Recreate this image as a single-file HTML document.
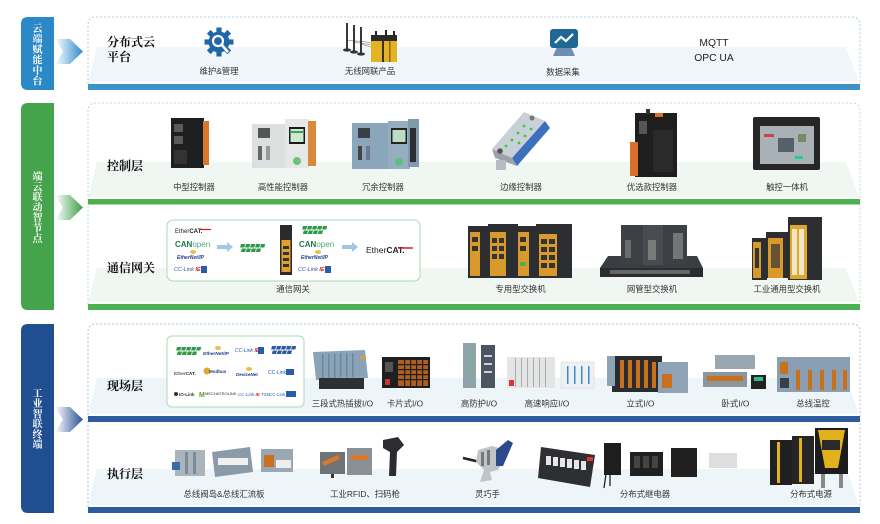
<!DOCTYPE html>
<html><head><meta charset="utf-8">
<style>
html,body{margin:0;padding:0;background:#fff;}
svg{display:block;}
.lb{font-family:"Liberation Sans","Noto Sans CJK SC",sans-serif;font-size:8.4px;fill:#333;text-anchor:middle;}
.rl{font-family:"Noto Serif CJK SC","Liberation Serif",serif;font-size:12px;font-weight:700;fill:#111;}
.vt{font-family:"Noto Serif CJK SC","Liberation Serif",serif;font-size:10px;font-weight:700;fill:#fff;text-anchor:middle;}
.sm{font-family:"Liberation Sans",sans-serif;}
</style></head><body>
<svg width="880" height="524" viewBox="0 0 880 524" xmlns="http://www.w3.org/2000/svg">
<defs>
<linearGradient id="g1" x1="0" x2="1" y1="0" y2="0"><stop offset="0" stop-color="#fff"/><stop offset="1" stop-color="#2e8bcb"/></linearGradient>
<linearGradient id="g2" x1="0" x2="1" y1="0" y2="0"><stop offset="0" stop-color="#fff"/><stop offset="1" stop-color="#3f9f47"/></linearGradient>
<linearGradient id="g3" x1="0" x2="1" y1="0" y2="0"><stop offset="0" stop-color="#fff"/><stop offset="1" stop-color="#2b4f96"/></linearGradient>
<g id="pn"><g transform="skewX(-15)"><rect x="0" y="0" width="4.2" height="3.5"/><rect x="5" y="0" width="4.2" height="3.5"/><rect x="10" y="0" width="4.2" height="3.5"/><rect x="15" y="0" width="4.2" height="3.5"/><rect x="20" y="0" width="4.2" height="3.5"/><rect x="2" y="4.5" width="4.2" height="3.5"/><rect x="7" y="4.5" width="4.2" height="3.5"/><rect x="12" y="4.5" width="4.2" height="3.5"/><rect x="17" y="4.5" width="4.2" height="3.5"/></g></g>
</defs>

<!-- ===== Section 1 ===== -->
<path d="M54,17 H28 Q21,17 21,24 V83 Q21,90 28,90 H54 Z" fill="#2a89c6"/>
<polygon points="55,39 70,39 83,51.5 70,64 55,64 63,51.5" fill="url(#g1)"/>
<polygon points="97,47 846,47 859,82 88,82" fill="#f1f6fa"/>
<path d="M88,84 V25 Q88,17 96,17 H852 Q860,17 860,25 V84" fill="none" stroke="#9cc4df" stroke-width="0.8" stroke-dasharray="2,2"/>
<rect x="88" y="84" width="772" height="6" fill="#3d93c9"/>
<text class="vt" x="37.5" y="32">云</text><text class="vt" x="37.5" y="42.5">端</text><text class="vt" x="37.5" y="53">赋</text><text class="vt" x="37.5" y="63.5">能</text><text class="vt" x="37.5" y="74">中</text><text class="vt" x="37.5" y="84.5">台</text>
<text class="rl" x="107" y="46">分布式云</text>
<text class="rl" x="107" y="61">平台</text>

<!-- gear -->
<g transform="translate(219,42)" fill="#1f67a6">
<circle r="10.5"/>
<rect x="-2.6" y="-14.5" width="5.2" height="6" transform="rotate(0)"/><rect x="-2.6" y="-14.5" width="5.2" height="6" transform="rotate(45)"/><rect x="-2.6" y="-14.5" width="5.2" height="6" transform="rotate(90)"/><rect x="-2.6" y="-14.5" width="5.2" height="6" transform="rotate(135)"/><rect x="-2.6" y="-14.5" width="5.2" height="6" transform="rotate(180)"/><rect x="-2.6" y="-14.5" width="5.2" height="6" transform="rotate(225)"/><rect x="-2.6" y="-14.5" width="5.2" height="6" transform="rotate(270)"/><rect x="-2.6" y="-14.5" width="5.2" height="6" transform="rotate(315)"/>
<circle r="5" fill="none" stroke="#fff" stroke-width="2.2" cx="-1" cy="-1"/>
<line x1="2" y1="2" x2="9" y2="10" stroke="#fff" stroke-width="2.6"/>
</g>
<text class="lb" x="219" y="74">维护&amp;管理</text>

<!-- wireless -->
<g>
<path d="M347,40 C356,42 364,40 374,44 M354,42 C362,44 368,43 376,47 M361,44 C366,46 370,46 378,50" stroke="#999" stroke-width="0.8" fill="none"/>
<line x1="347" y1="23" x2="347" y2="49" stroke="#222" stroke-width="1.8"/>
<line x1="354" y1="25" x2="354" y2="51" stroke="#222" stroke-width="1.8"/>
<line x1="361" y1="27" x2="361" y2="53" stroke="#222" stroke-width="1.8"/>
<ellipse cx="347" cy="50" rx="4" ry="1.6" fill="#333"/><ellipse cx="354" cy="52" rx="4" ry="1.6" fill="#333"/><ellipse cx="361" cy="54" rx="4" ry="1.6" fill="#333"/>
<rect x="371" y="37" width="26" height="25" fill="#e5b224"/>
<rect x="371" y="35" width="26" height="6" fill="#2a2a2a"/>
<rect x="382" y="41" width="2" height="21" fill="#333"/><rect x="389" y="41" width="1.5" height="21" fill="#8a6a10"/>
<rect x="375" y="31" width="2" height="5" fill="#222"/><rect x="385" y="30" width="2" height="6" fill="#222"/><rect x="393" y="31" width="2" height="5" fill="#222"/>
</g>
<text class="lb" x="370" y="74">无线网联产品</text>

<!-- data collection -->
<polygon points="557,47 571,47 575,56 553,56" fill="#6f8db0"/>
<rect x="550" y="29" width="28" height="19" rx="3" fill="#1f6896"/>
<polyline points="555,43 561,37 566,41 573,34" fill="none" stroke="#fff" stroke-width="2.2"/>
<text class="lb" x="563" y="75">数据采集</text>

<text x="714" y="46" font-family="Liberation Sans,sans-serif" font-size="10.3" fill="#222" text-anchor="middle">MQTT</text>
<text x="714" y="61" font-family="Liberation Sans,sans-serif" font-size="10.3" fill="#222" text-anchor="middle">OPC UA</text>

<!-- ===== Section 2 ===== -->
<path d="M54,103 H28 Q21,103 21,110 V303 Q21,310 28,310 H54 Z" fill="#44a34b"/>
<polygon points="55,195 70,195 83,207.5 70,220 55,220 63,207.5" fill="url(#g2)"/>
<polygon points="97,162 846,162 859,197 88,197" fill="#f0f7f2"/>
<polygon points="97,268 846,268 859,302 88,302" fill="#f0f7f2"/>
<path d="M88,304 V111 Q88,103 96,103 H852 Q860,103 860,111 V304" fill="none" stroke="#a9d4a9" stroke-width="0.8" stroke-dasharray="2,2"/>
<rect x="88" y="199" width="772" height="5.5" fill="#4caf50"/>
<rect x="88" y="304" width="772" height="6" fill="#4caf50"/>
<text class="vt" x="37.5" y="180">端</text><text class="vt" x="37.5" y="190.3">云</text><text class="vt" x="37.5" y="200.6">联</text><text class="vt" x="37.5" y="210.9">动</text><text class="vt" x="37.5" y="221.2">智</text><text class="vt" x="37.5" y="231.5">节</text><text class="vt" x="37.5" y="241.8">点</text>
<text class="rl" x="107" y="170">控制层</text>
<text class="rl" x="107" y="272">通信网关</text>

<!-- 中型控制器 -->
<rect x="171" y="118" width="33" height="50" fill="#1e1f21"/>
<rect x="174" y="124" width="9" height="8" fill="#5a5a5a"/><rect x="174" y="136" width="9" height="8" fill="#5a5a5a"/>
<rect x="174" y="150" width="13" height="14" fill="#333"/>
<rect x="203" y="121" width="6" height="44" fill="#d9782a"/>
<text class="lb" x="194" y="190">中型控制器</text>

<!-- 高性能控制器 -->
<rect x="252" y="124" width="34" height="44" fill="#dcdfdf"/>
<rect x="258" y="128" width="12" height="10" fill="#555"/>
<rect x="258" y="146" width="4" height="14" fill="#666"/><rect x="266" y="146" width="4" height="14" fill="#999"/>
<rect x="285" y="119" width="24" height="49" fill="#e6e8e7"/>
<rect x="289" y="127" width="16" height="17" fill="#1b1b1b"/><rect x="290.5" y="129" width="13" height="13" fill="#cfe8d0"/><rect x="291" y="131" width="12" height="2" fill="#3aa35a"/>
<circle cx="297" cy="161" r="4" fill="#6cc27a"/>
<rect x="308" y="121" width="8" height="45" fill="#d88a3a"/>
<text class="lb" x="283" y="190">高性能控制器</text>

<!-- 冗余控制器 -->
<rect x="352" y="123" width="38" height="46" fill="#8aa6ba"/>
<rect x="358" y="128" width="12" height="10" fill="#3a3f45"/>
<rect x="358" y="146" width="4" height="14" fill="#444"/><rect x="366" y="146" width="4" height="14" fill="#6a7a88"/>
<rect x="388" y="121" width="22" height="48" fill="#94adc0"/>
<rect x="391" y="128" width="16" height="16" fill="#222"/><rect x="392.5" y="130" width="13" height="12" fill="#bcdcc4"/>
<circle cx="399" cy="162" r="4" fill="#5fc07a"/>
<rect x="408" y="119" width="11" height="48" fill="#7f99ad"/><rect x="410" y="128" width="6" height="34" fill="#2b2f33"/>
<text class="lb" x="383" y="190">冗余控制器</text>

<!-- 边缘控制器 -->
<polygon points="524,112 545,121 512,158 492,149" fill="#c9d0d8"/>
<polygon points="545,121 550,128 517,166 512,158" fill="#3d6fbd"/>
<polygon points="492,149 512,158 517,166 495,158" fill="#9aa3ac"/>
<rect x="496" y="160" width="10" height="10" fill="#b5bcc4"/>
<circle cx="512" cy="140" r="1.4" fill="#3c3"/><circle cx="518" cy="133" r="1.4" fill="#3c3"/><circle cx="506" cy="146" r="1.4" fill="#3c3"/><circle cx="524" cy="126" r="1.4" fill="#3c3"/>
<circle cx="519" cy="143" r="1.4" fill="#3c3"/><circle cx="525" cy="136" r="1.4" fill="#3c3"/><circle cx="531" cy="129" r="1.4" fill="#3c3"/>
<circle cx="500" cy="151" r="2.8" fill="#555"/><circle cx="532" cy="118" r="2.5" fill="#777"/>
<text class="lb" x="521" y="190">边缘控制器</text>

<!-- 优选款控制器 -->
<rect x="635" y="113" width="42" height="64" fill="#1e1e1e"/>
<rect x="646" y="109" width="4" height="5" fill="#333"/>
<rect x="655" y="113" width="8" height="4" fill="#d9702a"/>
<rect x="639" y="121" width="8" height="13" fill="#555"/>
<rect x="630" y="142" width="8" height="34" fill="#d9702a"/>
<rect x="653" y="130" width="20" height="42" fill="#2a2a2a"/>
<text class="lb" x="652" y="190">优选款控制器</text>

<!-- 触控一体机 -->
<rect x="753" y="117" width="67" height="53" rx="2" fill="#262626"/>
<rect x="760" y="126" width="54" height="38" fill="#a9b1b7"/>
<rect x="778" y="138" width="16" height="14" fill="#55606a"/>
<rect x="764" y="134" width="10" height="3" fill="#c44"/><rect x="798" y="134" width="8" height="8" fill="#7a8a60"/>
<rect x="795" y="156" width="8" height="3" fill="#2c9"/>
<text class="lb" x="787" y="190">触控一体机</text>

<!-- gateway box -->
<rect x="167" y="220" width="253" height="61" rx="6" fill="#fff" stroke="#aed8b4" stroke-width="1"/>
<text x="175" y="233" class="sm" font-size="6" fill="#222">Ether<tspan font-weight="bold">CAT.</tspan></text>
<line x1="199" y1="229.5" x2="211" y2="229.5" stroke="#c22" stroke-width="1.2"/>
<text x="175" y="247" class="sm" font-size="8" font-weight="bold" fill="#1d7a4a">CAN<tspan font-weight="normal" fill="#4aae74">open</tspan></text>
<ellipse cx="193" cy="252" rx="3" ry="2" fill="#e8c050"/>
<text x="177" y="259" class="sm" font-size="5" font-style="italic" font-weight="bold" fill="#1c3f8c">EtherNet/IP</text>
<text x="174" y="271" class="sm" font-size="5.5" font-style="italic" fill="#2a5caa">CC-Link <tspan fill="#d22" font-weight="bold">IE</tspan></text>
<rect x="201" y="266" width="6" height="7" fill="#2a5caa"/>
<polygon points="217,245 227,245 227,242 233,247 227,252 227,249 217,249" fill="#9fc8e8"/>
<use href="#pn" x="241" y="244" fill="#2e9a48"/>
<rect x="280" y="225" width="12" height="50" fill="#2b2b2b"/>
<rect x="281.5" y="240" width="9" height="32" fill="#e0a030"/>
<rect x="283" y="246" width="6" height="3" fill="#333"/><rect x="283" y="252" width="6" height="3" fill="#333"/><rect x="283" y="258" width="6" height="3" fill="#333"/><rect x="283" y="264" width="6" height="3" fill="#333"/>
<use href="#pn" x="303" y="226" fill="#2e9a48"/>
<text x="299" y="247" class="sm" font-size="8" font-weight="bold" fill="#1d7a4a">CAN<tspan font-weight="normal" fill="#4aae74">open</tspan></text>
<ellipse cx="318" cy="252" rx="3" ry="2" fill="#e8c050"/>
<text x="301" y="259" class="sm" font-size="5" font-style="italic" font-weight="bold" fill="#1c3f8c">EtherNet/IP</text>
<text x="298" y="271" class="sm" font-size="5.5" font-style="italic" fill="#2a5caa">CC-Link <tspan fill="#d22" font-weight="bold">IE</tspan></text>
<rect x="325" y="266" width="6" height="7" fill="#2a5caa"/>
<polygon points="342,245 352,245 352,242 358,247 352,252 352,249 342,249" fill="#9fc8e8"/>
<text x="366" y="253" class="sm" font-size="8.5" fill="#222">Ether<tspan font-weight="bold">CAT.</tspan></text>
<line x1="398" y1="248" x2="413" y2="248" stroke="#c22" stroke-width="1.5"/>
<text class="lb" x="293" y="292">通信网关</text>

<!-- 专用型交换机 -->
<rect x="468" y="226" width="20" height="52" fill="#2c2e31"/><rect x="470" y="232" width="10" height="44" fill="#d89a2a"/>
<rect x="472" y="237" width="6" height="5" fill="#333"/><rect x="472" y="246" width="6" height="5" fill="#333"/>
<rect x="488" y="224" width="30" height="54" fill="#2c2e31"/><rect x="490" y="232" width="16" height="44" fill="#d89a2a"/>
<rect x="492" y="238" width="5" height="5" fill="#333"/><rect x="499" y="238" width="5" height="5" fill="#333"/><rect x="492" y="246" width="5" height="5" fill="#333"/><rect x="499" y="246" width="5" height="5" fill="#333"/><rect x="492" y="254" width="5" height="5" fill="#333"/><rect x="499" y="254" width="5" height="5" fill="#333"/>
<rect x="516" y="226" width="22" height="52" fill="#2c2e31"/><rect x="518" y="232" width="11" height="44" fill="#d89a2a"/>
<rect x="520" y="237" width="6" height="5" fill="#333"/><rect x="520" y="246" width="6" height="5" fill="#333"/><rect x="520" y="262" width="6" height="4" fill="#5a5"/>
<rect x="536" y="224" width="36" height="54" fill="#2c2e31"/><rect x="539" y="234" width="18" height="42" fill="#d89a2a"/>
<rect x="541" y="239" width="6" height="5" fill="#333"/><rect x="549" y="239" width="6" height="5" fill="#333"/><rect x="541" y="247" width="6" height="5" fill="#333"/><rect x="549" y="247" width="6" height="5" fill="#333"/><rect x="541" y="255" width="6" height="5" fill="#333"/><rect x="549" y="255" width="6" height="5" fill="#333"/><rect x="541" y="263" width="6" height="5" fill="#333"/><rect x="549" y="263" width="6" height="5" fill="#333"/>
<text class="lb" x="520.5" y="292">专用型交换机</text>

<!-- 网管型交换机 -->
<polygon points="608,256 697,256 703,268 600,268" fill="#3a3d42"/>
<rect x="600" y="268" width="103" height="9" fill="#2a2c30"/>
<rect x="610" y="270" width="80" height="4" fill="#777" opacity="0.8"/>
<rect x="621" y="225" width="22" height="40" fill="#3c3f44"/><rect x="643" y="225" width="20" height="40" fill="#484b50"/><rect x="663" y="225" width="24" height="40" fill="#3c3f44"/>
<rect x="625" y="240" width="6" height="18" fill="#888" opacity="0.6"/><rect x="648" y="240" width="8" height="20" fill="#999" opacity="0.6"/><rect x="673" y="233" width="10" height="26" fill="#999" opacity="0.6"/>
<text class="lb" x="652" y="292">网管型交换机</text>

<!-- 工业通用型交换机 -->
<rect x="752" y="238" width="15" height="42" fill="#2c2e31"/><rect x="753" y="242" width="8" height="36" fill="#d89a2a"/>
<rect x="766" y="232" width="24" height="46" fill="#2c2e31"/><rect x="768" y="238" width="15" height="40" fill="#d89a2a"/>
<rect x="788" y="217" width="34" height="63" fill="#2c2e31"/><rect x="790" y="225" width="17" height="54" fill="#e0a82a"/>
<rect x="792" y="229" width="5" height="46" fill="#f1e6c8"/><rect x="799" y="229" width="5" height="46" fill="#f1e6c8"/>
<rect x="755" y="248" width="4" height="20" fill="#333"/><rect x="771" y="244" width="9" height="24" fill="#333" opacity="0.7"/>
<text class="lb" x="787" y="292">工业通用型交换机</text>

<!-- ===== Section 3 ===== -->
<path d="M54,324 H28 Q21,324 21,331 V506 Q21,513 28,513 H54 Z" fill="#1f4f91"/>
<polygon points="55,407 70,407 83,419.5 70,432 55,432 63,419.5" fill="url(#g3)"/>
<polygon points="97,378 846,378 859,414 88,414" fill="#eef5f9"/>
<polygon points="97,469 846,469 859,505 88,505" fill="#eef5f9"/>
<path d="M88,507 V332 Q88,324 96,324 H852 Q860,324 860,332 V507" fill="none" stroke="#9ab2d2" stroke-width="0.8" stroke-dasharray="2,2"/>
<rect x="88" y="416" width="772" height="6" fill="#2c5c9c"/>
<rect x="88" y="507" width="772" height="6" fill="#2c5c9c"/>
<text class="vt" x="37.5" y="397">工</text><text class="vt" x="37.5" y="407.2">业</text><text class="vt" x="37.5" y="417.4">智</text><text class="vt" x="37.5" y="427.6">联</text><text class="vt" x="37.5" y="437.8">终</text><text class="vt" x="37.5" y="448">端</text>
<text class="rl" x="107" y="390">现场层</text>
<text class="rl" x="107" y="478">执行层</text>

<!-- protocol box -->
<rect x="167" y="336" width="137" height="71" rx="5" fill="#fff" stroke="#aed8b4" stroke-width="1"/>
<use href="#pn" x="177" y="347" fill="#2e9a48"/>
<ellipse cx="218" cy="348" rx="3" ry="2" fill="#e8c050"/>
<text x="203" y="355" class="sm" font-size="4.8" font-style="italic" font-weight="bold" fill="#1c3f8c">EtherNet/IP</text>
<text x="235" y="352" class="sm" font-size="5" font-style="italic" fill="#2a5caa">CC-Link <tspan fill="#d22" font-weight="bold">IE</tspan></text>
<rect x="258" y="347" width="6" height="7" fill="#2a5caa"/>
<use href="#pn" x="272" y="346" fill="#2c5aa0"/>
<text x="174" y="375" class="sm" font-size="4.8" fill="#222">Ether<tspan font-weight="bold">CAT.</tspan></text>
<circle cx="207" cy="371" r="3.5" fill="#e2a828"/>
<text x="209" y="373" class="sm" font-size="4.5" font-weight="bold" fill="#1c3f8c">Modbus</text>
<ellipse cx="249" cy="369" rx="3" ry="2" fill="#e8c050"/>
<text x="236" y="376" class="sm" font-size="4.5" font-style="italic" font-weight="bold" fill="#1c3f8c">DeviceNet</text>
<text x="268" y="374" class="sm" font-size="5" fill="#2a5caa">CC-Link</text>
<rect x="286" y="369" width="8" height="6" fill="#2a5caa"/>
<circle cx="176" cy="394" r="2" fill="#333"/>
<text x="179" y="396" class="sm" font-size="4.5" font-weight="bold" fill="#333">IO-Link</text>
<text x="199" y="397" class="sm" font-size="7" font-weight="bold" fill="#5a9a30">M</text>
<text x="205" y="395" class="sm" font-size="4" fill="#333">MECHATROLINK</text>
<text x="238" y="396" class="sm" font-size="4.5" font-style="italic" fill="#2a5caa">CC-Link <tspan fill="#d22" font-weight="bold">IE</tspan> TSN</text>
<text x="269" y="396" class="sm" font-size="4.5" fill="#2a5caa">CC-Link</text>
<rect x="286" y="391" width="10" height="6" fill="#2a5caa"/>

<!-- 三段式 -->
<polygon points="313,352 365,350 368,378 316,380" fill="#8aa3b8"/>
<g fill="#6f879b"><rect x="322" y="354" width="1.5" height="24"/><rect x="328" y="354" width="1.5" height="24"/><rect x="334" y="354" width="1.5" height="24"/><rect x="340" y="353" width="1.5" height="24"/><rect x="346" y="353" width="1.5" height="24"/><rect x="352" y="353" width="1.5" height="24"/></g>
<rect x="319" y="378" width="45" height="11" fill="#2d3035"/>
<rect x="360" y="356" width="6" height="3" fill="#e0a030"/>
<text class="lb" x="342.5" y="406.5">三段式热插拔I/O</text>

<!-- 卡片式 -->
<rect x="382" y="357" width="48" height="31" fill="#1f1f1f"/>
<rect x="398" y="360" width="30" height="26" fill="#c86a20" opacity="0.85"/>
<g fill="#1f1f1f"><rect x="398" y="364" width="30" height="1.2"/><rect x="398" y="369" width="30" height="1.2"/><rect x="398" y="374" width="30" height="1.2"/><rect x="398" y="379" width="30" height="1.2"/><rect x="404" y="360" width="1.2" height="26"/><rect x="410" y="360" width="1.2" height="26"/><rect x="416" y="360" width="1.2" height="26"/><rect x="422" y="360" width="1.2" height="26"/></g>
<rect x="385" y="362" width="8" height="10" fill="#555"/><rect x="385" y="379" width="5" height="6" fill="#c33"/>
<text class="lb" x="405" y="406.5">卡片式I/O</text>

<!-- 高防护 -->
<rect x="463" y="343" width="13" height="45" fill="#8ea4a8"/>
<rect x="481" y="345" width="14" height="43" fill="#4a5560"/>
<g fill="#3d4"><circle cx="469.5" cy="356" r="1"/><circle cx="469.5" cy="364" r="1"/><circle cx="469.5" cy="372" r="1"/></g>
<g fill="#ccd"><rect x="484" y="355" width="8" height="2"/><rect x="484" y="363" width="8" height="2"/><rect x="484" y="371" width="8" height="2"/></g>
<text class="lb" x="479" y="406.5">高防护I/O</text>

<!-- 高速响应 -->
<rect x="507" y="357" width="48" height="31" fill="#e4e6e6"/>
<g fill="#a8acb0"><rect x="515" y="358" width="1" height="29"/><rect x="521" y="358" width="1" height="29"/><rect x="527" y="358" width="1" height="29"/><rect x="533" y="358" width="1" height="29"/><rect x="539" y="358" width="1" height="29"/><rect x="545" y="358" width="1" height="29"/></g>
<rect x="509" y="380" width="5" height="6" fill="#d33"/>
<rect x="561" y="362" width="33" height="26" fill="#eef0f2" stroke="#cfd4d8" stroke-width="0.5"/>
<g fill="#3a8ad0"><rect x="567" y="366" width="1.5" height="18"/><rect x="574" y="366" width="1.5" height="18"/><rect x="581" y="366" width="1.5" height="18"/><rect x="588" y="366" width="1.5" height="18"/></g>
<text class="lb" x="547" y="406.5">高速响应I/O</text>

<!-- 立式 -->
<rect x="612" y="356" width="50" height="36" fill="#2a2c2f"/>
<g fill="#c8701e"><rect x="620" y="360" width="4" height="28"/><rect x="628" y="360" width="4" height="28"/><rect x="636" y="360" width="4" height="28"/><rect x="644" y="360" width="4" height="28"/><rect x="652" y="362" width="4" height="26"/></g>
<rect x="607" y="356" width="8" height="30" fill="#8ea3b5"/>
<rect x="658" y="362" width="30" height="31" fill="#8ea3b5"/>
<rect x="662" y="374" width="10" height="14" fill="#c8701e"/>
<text class="lb" x="640.5" y="406.5">立式I/O</text>

<!-- 卧式 -->
<rect x="715" y="355" width="40" height="14" fill="#9aa6b0"/>
<rect x="703" y="372" width="44" height="15" fill="#8a96a0"/>
<rect x="707" y="376" width="36" height="5" fill="#c8701e"/>
<rect x="751" y="375" width="15" height="14" fill="#222"/>
<rect x="754" y="377" width="9" height="4" fill="#3b8"/>
<text class="lb" x="735.5" y="406.5">卧式I/O</text>

<!-- 总线温控 -->
<rect x="777" y="357" width="73" height="35" fill="#8aa0b2"/>
<g fill="#c8701e"><rect x="796" y="370" width="4" height="20"/><rect x="808" y="370" width="4" height="20"/><rect x="820" y="370" width="4" height="20"/><rect x="832" y="370" width="4" height="20"/><rect x="843" y="370" width="4" height="20"/></g>
<rect x="780" y="362" width="8" height="12" fill="#c8701e"/><rect x="780" y="378" width="9" height="10" fill="#3a3f45"/>
<text class="lb" x="813" y="406.5">总线温控</text>

<!-- 阀岛 -->
<rect x="175" y="450" width="30" height="26" fill="#a9b4bd"/>
<rect x="172" y="462" width="8" height="8" fill="#3a6aa8"/>
<rect x="185" y="452" width="3" height="22" fill="#7e8a94"/><rect x="193" y="452" width="3" height="22" fill="#7e8a94"/>
<polygon points="212,452 250,447 253,472 215,477" fill="#8a9aa8"/>
<rect x="218" y="458" width="30" height="7" fill="#f0f0f0"/>
<rect x="261" y="449" width="32" height="23" fill="#9aa8b4"/>
<rect x="264" y="455" width="10" height="12" fill="#c8701e"/><rect x="276" y="460" width="15" height="8" fill="#eee"/>
<text class="lb" x="224" y="497">总线阀岛&amp;总线汇流板</text>

<!-- RFID -->
<rect x="320" y="452" width="25" height="22" fill="#6f7378"/>
<polygon points="322,462 338,455 340,459 324,466" fill="#d9782a"/>
<rect x="331" y="474" width="3" height="4" fill="#333"/>
<rect x="347" y="448" width="25" height="27" fill="#8b9096"/>
<rect x="351" y="455" width="17" height="5" fill="#d9782a"/>
<path d="M383,440 L398,437 L404,445 L397,452 L396,476 L389,476 L390,452 L383,448 Z" fill="#2b2d30"/>
<text class="lb" x="365" y="497">工业RFID、扫码枪</text>

<!-- 灵巧手 -->
<path d="M463,458 L480,462" stroke="#222" stroke-width="2.5"/>
<path d="M478,450 L492,446 L500,448 L504,460 L498,470 L490,472 L492,480 L480,482 L484,470 L476,462 Z" fill="#c0c4c8"/>
<polygon points="496,450 508,440 513,443 503,466 496,466" fill="#2a4a8a"/>
<rect x="481" y="452" width="3" height="14" fill="#777"/><rect x="487" y="450" width="3" height="15" fill="#777"/>
<text class="lb" x="487.5" y="497">灵巧手</text>

<!-- 继电器 -->
<polygon points="541,447 595,455 590,487 538,478" fill="#2d2f33"/>
<g fill="#e6e6e6"><rect x="546" y="456" width="5" height="9"/><rect x="553" y="457" width="5" height="9"/><rect x="560" y="458" width="5" height="9"/><rect x="567" y="459" width="5" height="9"/><rect x="574" y="460" width="5" height="9"/><rect x="581" y="461" width="5" height="9"/></g>
<rect x="587" y="457" width="6" height="4" fill="#d33"/>
<rect x="604" y="443" width="17" height="32" fill="#1e1e1e"/>
<path d="M606,474 L604,488 M610,474 L610,486" stroke="#222" stroke-width="1.3"/>
<rect x="630" y="452" width="33" height="24" fill="#202020"/>
<rect x="634" y="456" width="6" height="12" fill="#444"/><rect x="643" y="456" width="6" height="12" fill="#444"/><rect x="652" y="456" width="6" height="12" fill="#444"/>
<rect x="671" y="448" width="26" height="29" fill="#202020"/>
<rect x="709" y="453" width="28" height="15" fill="#dcdee0"/>
<text class="lb" x="645" y="497">分布式继电器</text>

<!-- 电源 -->
<rect x="770" y="440" width="22" height="45" fill="#202020"/><rect x="777" y="442" width="3" height="41" fill="#e2b21e"/>
<rect x="792" y="436" width="22" height="48" fill="#262626"/><rect x="799" y="438" width="3" height="44" fill="#e2b21e"/>
<rect x="815" y="428" width="33" height="46" fill="#1c1c1c"/>
<polygon points="818,430 845,430 838,468 825,468" fill="#e2b21e"/>
<rect x="822" y="440" width="18" height="10" fill="#2a2a2a"/>
<rect x="821" y="474" width="4" height="14" fill="#888"/><rect x="839" y="474" width="4" height="14" fill="#888"/>
<text class="lb" x="811" y="497">分布式电源</text>
</svg>
</body></html>
